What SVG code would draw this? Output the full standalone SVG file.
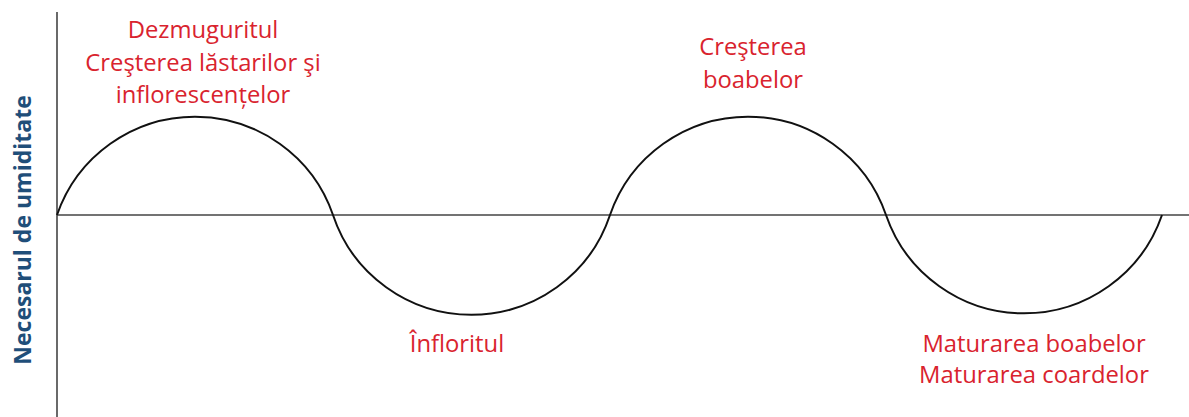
<svg xmlns="http://www.w3.org/2000/svg" width="1189" height="417" viewBox="0 0 1189 417">
<style>
.lbl{font-family:"Open Sans","Liberation Sans",sans-serif;font-size:23.8px;fill:#d9232e;text-anchor:middle}
.axis{stroke:#444;stroke-width:1.6;fill:none}
.curve{stroke:#111;stroke-width:2;fill:none}
.ylbl{font-family:"Open Sans","Liberation Sans",sans-serif;font-size:23px;font-weight:bold;fill:#1f4e79;text-anchor:middle}
</style>
<rect width="1189" height="417" fill="#fff"/>
<g id="axes">
<line class="axis" x1="57" y1="12" x2="57" y2="417"/>
<line class="axis" x1="57" y1="215" x2="1189" y2="215"/>
<text class="ylbl" transform="translate(31,230) rotate(-90)">Necesarul de umiditate</text>
</g>
<g id="connectors">
<path class="curve" d="M57,215 A146,146 0 0 1 333,215 A146,146 0 0 0 610,215 A146,146 0 0 1 886,215 A146,146 0 0 0 1162,215"/>
</g>
<g id="n1"><text class="lbl" x="203" y="38">Dezmuguritul</text><text class="lbl" x="203" y="71">Creşterea lăstarilor şi</text><text class="lbl" x="203" y="103">inflorescențelor</text></g>
<g id="n2"><text class="lbl" x="457" y="352">Înfloritul</text></g>
<g id="n3"><text class="lbl" x="753" y="55">Creşterea</text><text class="lbl" x="753" y="88">boabelor</text></g>
<g id="n4"><text class="lbl" x="1034" y="352">Maturarea boabelor</text><text class="lbl" x="1034" y="383">Maturarea coardelor</text></g>
</svg>
